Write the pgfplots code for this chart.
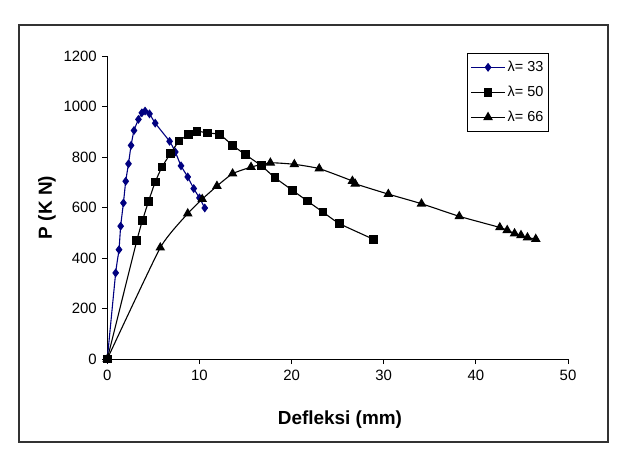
\documentclass[border=0pt]{standalone}
\usepackage{fontspec}
\setmainfont{Liberation Sans}
\usepackage{pgfplots}
\pgfplotsset{compat=1.18}
\definecolor{navyb}{RGB}{0,0,128}
\begin{document}
\begin{tikzpicture}
\useasboundingbox (-107.3bp,-100bp) rectangle (515.7bp,359bp);
\draw[line width=1.2bp, black!80] (-88.3bp,-83bp) rectangle (500.7bp,334bp);
\begin{axis}[
  at={(0,0)}, anchor=south west,
  scale only axis, width=460.7bp, height=303bp,
  xmin=0, xmax=50, ymin=0, ymax=1200,
  axis lines*=left, axis line style={-, line width=0.8bp},
  tick align=outside, major tick length=5bp,
  tick style={black, line width=0.8bp},
  xtick={0,10,...,50}, ytick={0,200,...,1200},
  /pgf/number format/assume math mode=true,
  /pgf/number format/1000 sep={},
  ticklabel style={font=\fontsize{15}{17}\selectfont},
  xticklabel style={yshift=-3bp},
  yticklabel style={xshift=-2bp},
  xlabel={\textbf{Defleksi (mm)}},
  ylabel={\textbf{P (K N)}},
  xlabel style={font=\fontsize{19}{21}\selectfont, at={(axis description cs:0.505,-0.201)}, anchor=center},
  ylabel style={font=\fontsize{19}{21}\selectfont, at={(axis description cs:-0.131,0.5)}, anchor=center},
  clip=false,
  legend style={at={(axis description cs:0.781,1.01)}, anchor=north west,
    draw=black, line width=0.8bp, font=\fontsize{14.5}{16}\selectfont,
    row sep=9bp, inner xsep=3bp, inner ysep=6bp, cells={anchor=west},
    /tikz/every even column/.append style={column sep=1bp}},
  legend image code/.code={\draw[mark repeat=2,mark phase=2,#1] plot coordinates {(0bp,0bp) (17bp,0bp) (34bp,0bp)};},
]
\addplot[navyb, line width=1.1bp, smooth, tension=0.3, mark=diamond*, mark size=3.6bp, mark options={fill=navyb, draw=navyb}]
coordinates {
(0,0) (0.91,341) (1.27,433) (1.45,526) (1.75,618) (2.0,704) (2.3,773) (2.58,846) (2.9,905) (3.38,949) (3.75,975) (4.1,982) (4.58,971) (5.2,934) (6.76,862) (7.38,820) (8.0,765) (8.73,721) (9.38,675) (10.0,638) (10.58,598)
};
\addlegendentry{λ= 33}
\addplot[black, line width=1.1bp, smooth, tension=0.3, mark=square*, mark size=3.8bp]
coordinates {
(0,0) (3.2,468) (3.82,549) (4.47,624) (5.2,701) (5.93,760) (6.84,813) (7.78,863) (8.84,889) (9.75,902) (10.9,895) (12.2,889) (13.6,846) (15.0,809) (16.7,766) (18.2,718) (20.1,668) (21.7,626) (23.4,582) (25.2,536) (28.9,474)
};
\addlegendentry{λ= 50}
\addplot[black, line width=1.1bp, smooth, tension=0.3, mark=triangle*, mark size=4.5bp]
coordinates {
(0,0) (5.75,441) (8.73,576) (10.3,633) (11.9,685) (13.6,734) (15.6,760) (17.7,777) (20.3,771) (23.0,754) (26.6,705) (26.9,694) (30.5,653) (34.1,615) (38.2,565) (42.6,521) (43.4,510) (44.2,497) (44.9,490) (45.6,481) (46.5,475)
};
\addlegendentry{λ= 66}
\end{axis}
\end{tikzpicture}
\end{document}
